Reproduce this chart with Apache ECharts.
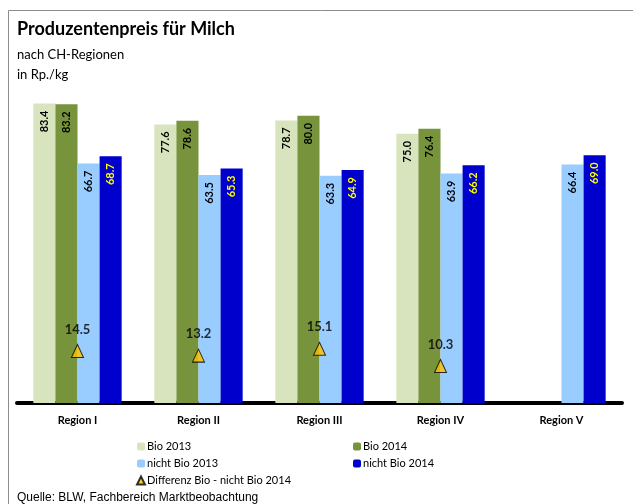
<!DOCTYPE html>
<html>
<head>
<meta charset="utf-8">
<script src="https://cdn.jsdelivr.net/npm/echarts@6/dist/echarts.min.js"></script>
<style>
  html, body { margin: 0; padding: 0; background: #fff; }
  #chart { width: 633px; height: 504px; }
</style>
</head>
<body>
<div id="chart"></div>
<script>
const regions = ["Region I", "Region II", "Region III", "Region IV", "Region V"];
const bio2013 = [83.4, 77.6, 78.7, 75.0, null];
const bio2014 = [83.2, 78.6, 80.0, 76.4, null];
const nichtBio2013 = [66.7, 63.5, 63.3, 63.9, 66.4];
const nichtBio2014 = [68.7, 65.3, 64.9, 66.2, 69.0];
const differenz = [14.5, 13.2, 15.1, 10.3, null];

const font = "Lato";

const barLabel = (color) => ({
  show: true,
  position: "insideTop",
  distance: 7,
  rotate: 90,
  align: "right",
  verticalAlign: "middle",
  fontFamily: font,
  fontWeight: "bold",
  fontSize: 11,
  color: color,
  formatter: (p) => (p.value == null ? "" : p.value.toFixed(1)),
});

const makeBar = (name, data, color, labelColor) => ({
  name: name,
  type: "bar",
  data: data,
  barGap: "0%",
  barCategoryGap: "27%",
  itemStyle: { color: color },
  label: barLabel(labelColor),
  emphasis: { disabled: true },
});

const chart = echarts.init(document.getElementById("chart"), null, { renderer: "canvas" });
chart.setOption({
  animation: false,
  textStyle: { fontFamily: font },
  title: [
    {
      text: "Produzentenpreis für Milch",
      left: 12,
      top: 15,
      textStyle: { fontFamily: font, fontWeight: "bold", fontSize: 18, color: "#000" },
    },
    {
      text: "nach CH-Regionen\nin Rp./kg",
      left: 12,
      top: 40,
      textStyle: { fontFamily: font, fontWeight: "normal", fontSize: 13, lineHeight: 20, color: "#000" },
    },
    {
      text: "Quelle: BLW, Fachbereich Marktbeobachtung",
      left: 12,
      top: 487,
      textStyle: { fontFamily: "Liberation Sans", fontWeight: "normal", fontSize: 12, color: "#000" },
    },
  ],
  graphic: [
    {
      type: "rect",
      shape: { x: 8.5, y: 10.5, width: 700, height: 600 },
      style: { fill: "none", stroke: "#8c8c8c", lineWidth: 1 },
      silent: true,
    },
  ],
  legend: [
    {
      orient: "vertical",
      left: 131,
      top: 436,
      itemWidth: 8,
      itemHeight: 8,
      itemGap: 6,
      textStyle: { fontFamily: font, fontSize: 11, color: "#000", padding: [0, 0, 0, -3] },
      data: ["Bio 2013", "nicht Bio 2013", "Differenz Bio - nicht Bio 2014"],
    },
    {
      orient: "vertical",
      left: 348,
      top: 436,
      itemWidth: 8,
      itemHeight: 8,
      itemGap: 6,
      textStyle: { fontFamily: font, fontSize: 11, color: "#000", padding: [0, 0, 0, -3] },
      data: ["Bio 2014", "nicht Bio 2014"],
    },
  ],
  grid: { left: 17, right: 11, top: 44, bottom: 101, containLabel: false },
  xAxis: {
    type: "category",
    data: regions,
    axisLine: { show: true, lineStyle: { color: "#000", width: 4 } },
    axisTick: { show: false },
    axisLabel: { fontFamily: font, fontWeight: "bold", fontSize: 11, color: "#000", margin: 12 },
    splitLine: { show: false },
  },
  yAxis: {
    type: "value",
    min: 0,
    max: 100,
    show: false,
    splitLine: { show: false },
  },
  series: [
    makeBar("Bio 2013", bio2013, "#d7e4bd", "#000"),
    makeBar("Bio 2014", bio2014, "#77933c", "#000"),
    makeBar("nicht Bio 2013", nichtBio2013, "#99ccff", "#000"),
    makeBar("nicht Bio 2014", nichtBio2014, "#0000cc", "#ffff00"),
    {
      name: "Differenz Bio - nicht Bio 2014",
      type: "scatter",
      data: differenz,
      symbol: "triangle",
      symbolSize: [12, 13],
      itemStyle: { color: "#ffc000", borderColor: "#000", borderWidth: 1 },
      label: {
        show: true,
        position: "top",
        distance: 8,
        fontFamily: font,
        fontWeight: "bold",
        fontSize: 13,
        color: "#000",
        formatter: (p) => (p.value == null ? "" : p.value.toFixed(1)),
      },
      emphasis: { disabled: true },
      z: 5,
    },
  ],
});
</script>
</body>
</html>
